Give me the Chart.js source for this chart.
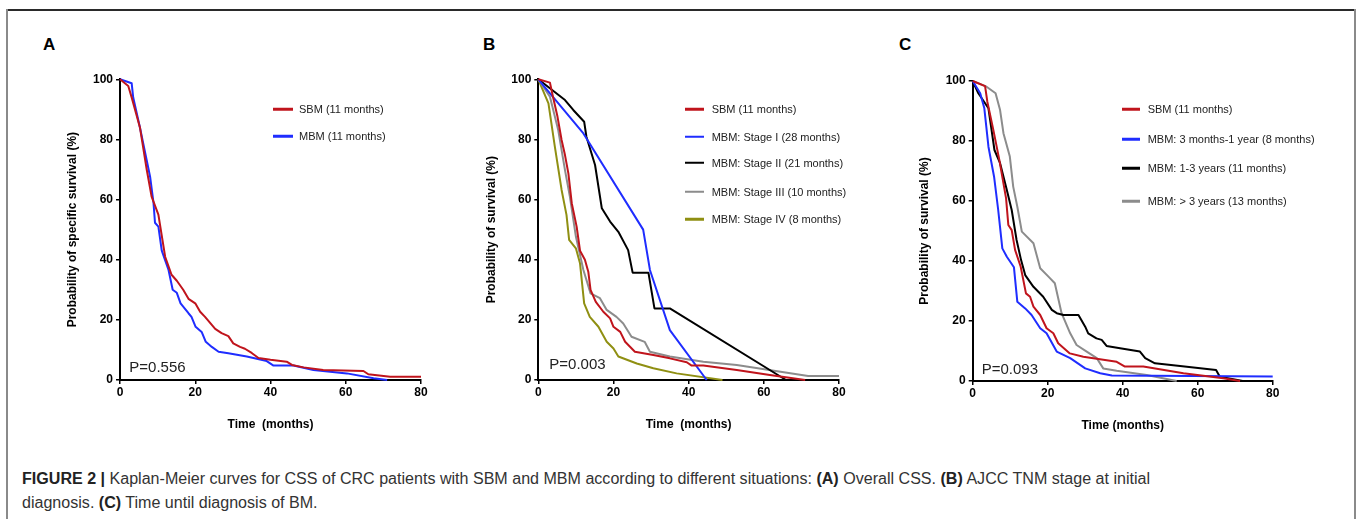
<!DOCTYPE html>
<html><head><meta charset="utf-8">
<script src="https://cdn.jsdelivr.net/npm/chart.js@4"></script>
<style>
html,body{margin:0;padding:0;background:#fff;}
body{width:1357px;height:519px;position:relative;overflow:hidden;font-family:'Liberation Sans',Arial,sans-serif;}
.fr{position:absolute;}
canvas{position:absolute;}
.plabel{position:absolute;font-weight:bold;font-size:17px;line-height:17px;color:#000;}
.leg{position:absolute;font-size:11px;line-height:13px;color:#222;white-space:pre;transform:translateY(-50%);}
.legl{position:absolute;height:2.5px;transform:translateY(-50%);}
.pval{position:absolute;font-size:15px;line-height:15px;color:#222;white-space:pre;}
.caption{position:absolute;left:22px;top:467.4px;font-size:16px;line-height:24px;color:#333;white-space:pre;transform-origin:0 0;}
.caption b{color:#222;}
</style></head>
<body>
<div class="fr" style="left:7px;top:9px;width:1349px;height:2px;background:#2a2a2a;"></div>
<div class="fr" style="left:6px;top:9px;width:2px;height:510px;background:#8a8a8a;"></div>
<div class="fr" style="left:1354px;top:9px;width:2px;height:510px;background:#8a8a8a;"></div>

<div class="plabel" style="left:43px;top:36px;">A</div>
<div class="plabel" style="left:483px;top:36px;">B</div>
<div class="plabel" style="left:899px;top:36px;">C</div>

<canvas id="cA"></canvas>
<canvas id="cB"></canvas>
<canvas id="cC"></canvas>

<div id="overlay"></div>

<div class="caption" id="cap"><b>FIGURE 2 |</b> Kaplan-Meier curves for CSS of CRC patients with SBM and MBM according to different situations: <b>(A)</b> Overall CSS. <b>(B)</b> AJCC TNM stage at initial
diagnosis. <b>(C)</b> Time until diagnosis of BM.</div>

<script>
// ---------- DATA ----------
const xTicks = [0, 20, 40, 60, 80];
const yTicks = [0, 20, 40, 60, 80, 100];

// Panel A
const aLabels = ["SBM (11 months)", "MBM (11 months)"];
const aSbmX = [0,2.2,3.1,5.3,7.1,8.4,10.2,12,13.7,15.1,16.8,18.2,20,21.3,22.6,24.4,25.3,27,28.8,30.1,31.9,33.2,35,36.8,40,44.3,45.7,48.8,54,64.7,66,71.8,80];
const aSbmY = [100,97.8,94,84,70,61,55,41,35,33,30,27,25.5,22.7,21,18.3,17,15.6,14.6,12.2,11,10.4,9,7.3,6.7,6.1,5,4.2,3.3,3,1.9,1.1,1.1];
const aMbmX = [0,3.1,3.5,5.3,8,8.9,9.3,10.2,11.1,12.9,14,15.1,16.1,18.2,19,20.1,21.7,22.8,24.4,26.2,28.8,33.7,39,40.8,46.1,51.4,60.3,67.4,71];
const aMbmY = [100,98.7,94,84,67.6,59,52.3,51,43,36.6,30,29,25.5,22.2,21,17.7,16,12.7,11,9.4,8.9,7.8,6.3,4.8,4.8,3.3,2.2,0.6,0];
const aPval = "P=0.556";

// Panel B
const bLabels = ["SBM (11 months)", "MBM: Stage I (28 months)", "MBM: Stage II (21 months)", "MBM: Stage III (10 months)", "MBM: Stage IV (8 months)"];
const bSbmX = [0,3.1,3.8,5.1,6.2,7.1,8,8.9,10.2,11.1,12.4,13.3,13.9,15.3,17.3,19.1,20,21.8,23.1,25.7,30.6,35,39.5,40.8,43.9,52.8,61.6,71];
const bSbmY = [100,98.9,94.8,87.6,79.8,74.8,68.7,58.8,51,43,40,36,30,26,22.7,20.5,17.7,16,12.7,9.4,8.3,7.2,5.9,4.8,4.8,3.3,1.7,0];
const bSt1X = [0,12,27.9,29.7,35,44.8];
const bSt1Y = [100,82,50,36.6,16.6,0];
const bSt2X = [0,7.1,9.3,12.2,12.8,15.1,16.9,19.1,21.3,23.9,25.1,29.3,30.9,35,65.9];
const bSt2Y = [100,93.1,89.8,85.9,80.9,71.5,57.1,52.7,49.3,43.2,35.7,35.7,23.8,23.8,0];
const bSt3X = [0,3.1,5.3,7.1,8.4,10,12,13.9,16.4,18.2,20.8,22.6,24.8,28.3,29.7,35,43.9,52.8,71.8,80];
const bSt3Y = [100,94.2,83.1,69.8,61,47.7,36.6,28.8,27.2,23.3,21,18.8,14.4,12.7,9.4,7.8,6.1,5,1.3,1.3];
const bSt4X = [0,2.7,4.4,6.2,7.5,8.2,10,11.1,12.2,13.7,16,18.2,20,21.3,26.2,30.6,36.8,49];
const bSt4Y = [100,92,77.6,63.2,54.9,46.6,43.8,38.8,25.5,21,17.7,12.7,10.5,7.8,5.5,3.9,2.2,0];
const bPval = "P=0.003";

// Panel C
const cLabels = ["SBM (11 months)", "MBM: 3 months-1 year (8 months)", "MBM: 1-3 years (11 months)", "MBM: > 3 years (13 months)"];
const cSbmX = [0,3.3,3.9,5.5,7.1,8.9,9.5,10.4,11.3,12.8,14.2,15.3,16.2,18,19.7,21.5,22.8,25.9,29.5,38.4,40.6,45.5,56.2,66.8,71.3];
const cSbmY = [100,98.3,93.1,83.7,73.7,60.9,52,50.3,43.7,38.1,29.2,28.1,24.8,22,17.6,15.9,12.6,9.2,8.1,6.4,4.8,4.8,2.6,0.9,0];
const cM1X = [0,2,3.1,4.2,5.7,6.8,7.9,9.1,11,11.9,14,15.7,18,19.7,22.4,26,30,34,37.1,80];
const cM1Y = [100,95.9,90.9,78.1,68.1,57,44.2,41.4,37.9,26.4,24.2,22,17.6,15.9,9.8,7.6,4.2,2.6,1.8,1.5];
const cM2X = [0,1.5,3.3,4.2,5.8,7.3,9.1,10.4,11.7,12.9,14,16.2,18.8,21.1,22.4,24.2,28.2,30,30.8,33,34.4,35.7,39.3,44.6,46,48.6,55.3,64.9,65.9,72];
const cM2Y = [100,95.9,92.6,90.9,77,72.6,63.7,57,47,40.3,35.3,31.4,28.1,23.7,22.6,22,22,18.1,15.9,14.2,13.7,11.7,10.9,9.8,7.6,5.9,5,3.7,1.4,0];
const cM3X = [0,3.7,6.1,7.3,8.2,9.9,10.8,11.9,13.1,16.2,18,20.2,21.9,23.7,26,27.7,30.4,33.1,34.8,38.4,46.4,54.4];
const cM3Y = [100,98.1,95.9,90.3,82.6,74.8,64.8,58.1,49.8,45.9,37.6,34.8,32.6,22.6,15.9,12,9.8,7.6,4.2,3.4,2,0];
const cPval = "P=0.093";

// ---------- STYLE ----------
const RED = '#c0141c', BLUE = '#1f2dff', BLACK = '#000000', GRAY = '#8c8c8c', OLIVE = '#8f8f12';

Chart.defaults.font.family = "'Liberation Sans', Arial, sans-serif";

function pts(xs, ys) { return xs.map((x, i) => ({x: x, y: ys[i]})); }
function ds(label, xs, ys, color) {
  return {label, data: pts(xs, ys), borderColor: color, backgroundColor: color, borderWidth: 2,
          pointRadius: 0, tension: 0, fill: false, clip: false, borderJoinStyle: 'round'};
}

function makeChart(id, datasets, g) {
  const cv = document.getElementById(id);
  cv.width = g.w; cv.height = g.h;
  cv.style.left = g.left + 'px'; cv.style.top = g.top + 'px';
  cv.style.width = g.w + 'px'; cv.style.height = g.h + 'px';
  const tickFont = {size: 12, weight: 'bold'};
  const gridOpt = {drawOnChartArea: false, drawTicks: true, tickLength: 4, color: '#000', lineWidth: 1.5};
  return new Chart(cv, {
    type: 'line',
    data: {datasets},
    options: {
      responsive: false, animation: false, devicePixelRatio: 1,
      layout: {padding: {top: g.pt, right: g.pr, left: 0, bottom: 0}},
      plugins: {legend: {display: false}, tooltip: {enabled: false}},
      scales: {
        x: {type: 'linear', min: 0, max: 80,
            afterBuildTicks: s => { s.ticks = xTicks.map(v => ({value: v})); },
            ticks: {color: '#000', font: tickFont, padding: 1, maxRotation: 0, autoSkip: false},
            grid: gridOpt,
            border: {display: true, color: '#000', width: 2},
            title: {display: true, text: g.xTitle, color: '#000', font: tickFont, padding: {top: 0, bottom: g.xtp}},
            afterFit: s => { s.height = g.xh; }},
        y: {type: 'linear', min: 0, max: 100,
            afterBuildTicks: s => { s.ticks = yTicks.map(v => ({value: v})); },
            ticks: {color: '#000', font: tickFont, padding: 3, autoSkip: false},
            grid: gridOpt,
            border: {display: true, color: '#000', width: 2},
            title: {display: true, text: g.yTitle, color: '#000', font: tickFont, padding: {top: g.ytp, bottom: 0}},
            afterFit: s => { s.width = g.yw; }}
      }
    }
  });
}

makeChart('cA', [
  ds(aLabels[0], aSbmX, aSbmY, RED),
  ds(aLabels[1], aMbmX, aMbmY, BLUE)
], {left: 60, top: 60, w: 380, h: 380, yw: 60, xh: 60, pt: 19.3, pr: 19, xtp: 7.8, ytp: 5.8,
    xTitle: 'Time  (months)', yTitle: 'Probability of specific survival (%)'});

makeChart('cB', [
  ds(bLabels[0], bSbmX, bSbmY, RED),
  ds(bLabels[1], bSt1X, bSt1Y, BLUE),
  ds(bLabels[2], bSt2X, bSt2Y, BLACK),
  ds(bLabels[3], bSt3X, bSt3Y, GRAY),
  ds(bLabels[4], bSt4X, bSt4Y, OLIVE)
], {left: 480, top: 60, w: 380, h: 380, yw: 58.3, xh: 60, pt: 19.3, pr: 21, xtp: 7.8, ytp: 4.5,
    xTitle: 'Time  (months)', yTitle: 'Probability of survival (%)'});

makeChart('cC', [
  ds(cLabels[0], cSbmX, cSbmY, RED),
  ds(cLabels[1], cM1X, cM1Y, BLUE),
  ds(cLabels[2], cM2X, cM2Y, BLACK),
  ds(cLabels[3], cM3X, cM3Y, GRAY)
], {left: 912, top: 60, w: 388, h: 380, yw: 60.7, xh: 59, pt: 21, pr: 27.3, xtp: 6.8, ytp: 5.8,
    xTitle: 'Time (months)', yTitle: 'Probability of survival (%)'});

// ---------- LEGENDS & P-VALUES (HTML text) ----------
const ov = document.getElementById('overlay');
function legend(labels, colors, lx0, lx1, tx, ys) {
  labels.forEach((t, i) => {
    const l = document.createElement('div');
    l.className = 'legl';
    l.style.left = lx0 + 'px'; l.style.width = (lx1 - lx0) + 'px';
    l.style.top = ys[i] + 'px'; l.style.background = colors[i];
    ov.appendChild(l);
    const s = document.createElement('div');
    s.className = 'leg'; s.textContent = t;
    s.style.left = tx + 'px'; s.style.top = ys[i] + 'px';
    ov.appendChild(s);
  });
}
legend(aLabels, [RED, BLUE], 273, 293, 299, [109, 136]);
legend(bLabels, [RED, BLUE, BLACK, GRAY, OLIVE], 685, 704, 711.7, [109.3, 136.7, 162.7, 191.7, 219]);
legend(cLabels, [RED, BLUE, BLACK, GRAY], 1121.7, 1140, 1147.7, [109, 139.3, 168.3, 201]);

function pval(t, x, y) {
  const d = document.createElement('div');
  d.className = 'pval'; d.textContent = t;
  d.style.left = x + 'px'; d.style.top = y + 'px';
  ov.appendChild(d);
}
pval(aPval, 129.3, 359.3);
pval(bPval, 549.3, 355.9);
pval(cPval, 981.7, 360.9);

// fit caption first line to the reference width
(function(){
  const cap = document.getElementById('cap');
  const r = document.createRange();
  const tn = cap.lastChild; // not used
  const w = cap.getBoundingClientRect().width;
  const target = 1128;
  if (w > 0) cap.style.transform = 'scaleX(' + (target / w) + ')';
})();
</script>
</body></html>
